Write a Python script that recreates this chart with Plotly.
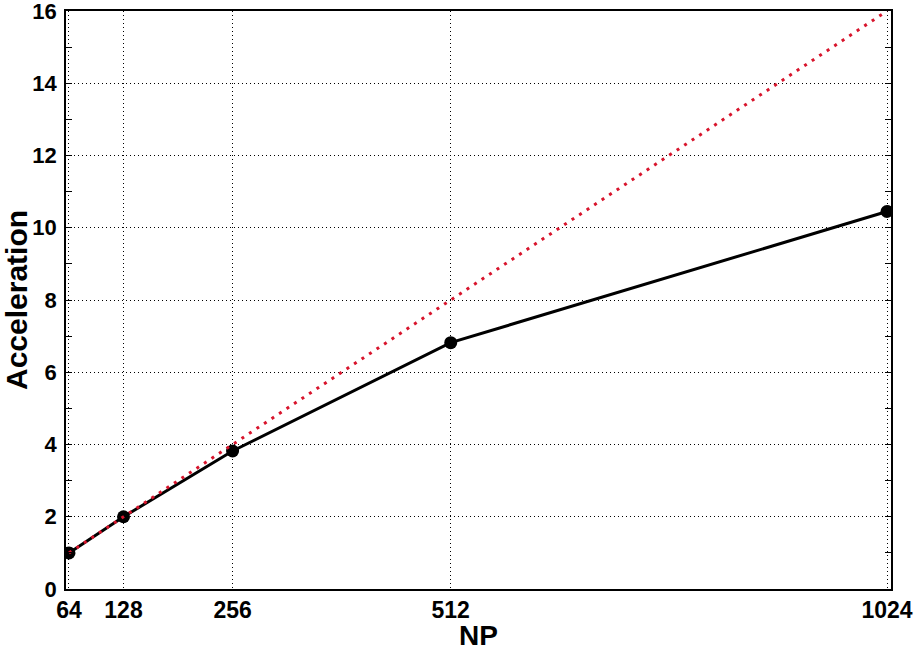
import plotly.graph_objects as go

np_procs = [64, 128, 256, 512, 1024]
acceleration = [1.0, 2.0, 3.82, 6.82, 10.45]
ideal = [1, 2, 4, 8, 16]
x_ticks = [64, 128, 256, 512, 1024]
y_ticks = [0, 2, 4, 6, 8, 10, 12, 14, 16]

font_family = "Liberation Sans, Arial, sans-serif"

fig = go.Figure()
fig.add_trace(go.Scatter(
    x=np_procs, y=acceleration, mode="lines+markers",
    line=dict(color="black", width=3),
    marker=dict(color="black", size=13),
    showlegend=False,
))
fig.add_trace(go.Scatter(
    x=np_procs, y=ideal, mode="lines",
    line=dict(color="#d8142c", width=3, dash="3px,6px"),
    showlegend=False,
))

fig.update_layout(
    width=918, height=651,
    margin=dict(l=66, r=27, t=11, b=62),
    plot_bgcolor="white", paper_bgcolor="white",
    font=dict(family=font_family, color="black"),
)
fig.update_xaxes(
    range=[60.5, 1028.7], automargin=False,
    tickvals=x_ticks, ticktext=[str(v) for v in x_ticks],
    showgrid=True, gridcolor="black", griddash="1px,3px", gridwidth=1,
    showline=True, linecolor="black", linewidth=1.5, mirror=True,
    ticks="", zeroline=False, ticklabeloverflow="allow",
    tickfont=dict(size=23, family=font_family, weight="bold"),
    title=dict(text="<b>NP</b>", font=dict(size=28, family=font_family), standoff=2),
)
fig.update_yaxes(
    range=[0, 16], automargin=False,
    tickvals=y_ticks,
    showgrid=True, gridcolor="black", griddash="1px,3px", gridwidth=1,
    showline=True, linecolor="black", linewidth=1.5, mirror="allticks",
    ticks="inside", ticklen=6, tickcolor="black", zeroline=False,
    ticklabeloverflow="allow", ticklabelstandoff=3,
    minor=dict(ticks="inside", ticklen=6, dtick=1, tickcolor="black", showgrid=False),
    tickfont=dict(size=22, family=font_family, weight="bold"),
    title=dict(text="<b>Acceleration</b>", font=dict(size=30, family=font_family), standoff=4),
)

fig.write_html("out.html", config={"displayModeBar": False},
               post_script="document.body.style.margin='0';")
